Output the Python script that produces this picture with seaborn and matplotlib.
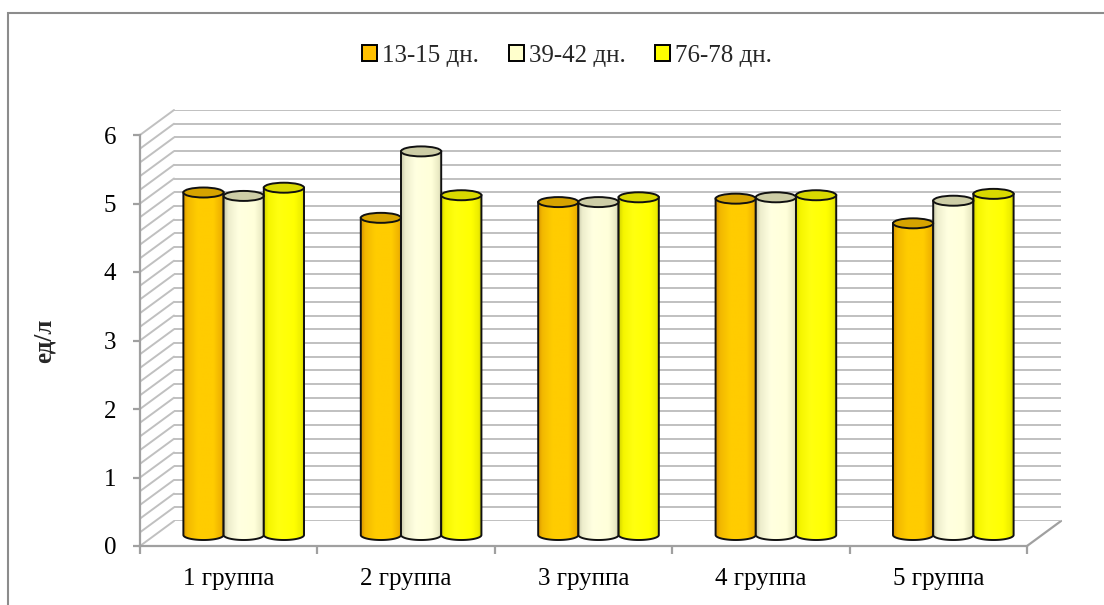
import numpy as np
import pandas as pd
import matplotlib
matplotlib.use("Agg")
import matplotlib.pyplot as plt
import seaborn as sns
from matplotlib.patches import Patch, Ellipse, PathPatch, Rectangle
from matplotlib.path import Path
from matplotlib.lines import Line2D
from matplotlib.transforms import IdentityTransform
from matplotlib.colors import to_rgb

# ---- data -------------------------------------------------------------
groups = ["1 группа", "2 группа", "3 группа", "4 группа", "5 группа"]
periods = ["13-15 дн.", "39-42 дн.", "76-78 дн."]
days_13_15 = [5.00, 4.63, 4.86, 4.91, 4.55]
days_39_42 = [4.95, 5.60, 4.86, 4.93, 4.88]
days_76_78 = [5.07, 4.96, 4.93, 4.96, 4.98]
y_ticks = [0, 1, 2, 3, 4, 5, 6]
y_label = "ед/л"

df = pd.DataFrame({
    "group": groups * 3,
    "period": np.repeat(periods, len(groups)),
    "value": days_13_15 + days_39_42 + days_76_78,
})

# ---- styling ----------------------------------------------------------
face_colors = ["#FFC000", "#FFFFCC", "#FFFF00"]
top_colors = ["#D6A300", "#CDCDA6", "#D9D900"]
# horizontal shading stops across each cylinder body (left -> right)
shade_pos = [0.0, 0.10, 0.35, 0.75, 0.92, 1.0]
shade_cols = [
    ["#D99600", "#F2B800", "#FFCC00", "#FFCC00", "#F0B400", "#D9A000"],
    ["#C9C9AA", "#EDEDCC", "#FFFFE0", "#FFFFDA", "#EAEAC4", "#CFCFAE"],
    ["#D6D600", "#F5F500", "#FFFF10", "#FFFF00", "#EDED00", "#C9C900"],
]
grid_col = "#C0C0C0"
axis_col = "#A0A0A0"

W, H = 1104, 605
UNIT = 68.5  # pixels per value unit

sns.set_theme(style="white")
plt.rcParams["font.family"] = ["Liberation Serif", "DejaVu Serif"]

fig = plt.figure(figsize=(W / 100, H / 100), dpi=100)


def place(left, right, y0, lo, hi):
    """Axes rectangle (figure fraction) from pixel x-span and pixel row of value 0."""
    bottom_px = y0 - lo * UNIT
    top_px = y0 - hi * UNIT
    return [left / W, 1 - bottom_px / H, (right - left) / W, (bottom_px - top_px) / H]


# back wall (gridlines), bar plane, front plane (axes lines and labels)
back_ax = fig.add_axes(place(174, 1061, 521, 0, 6), zorder=0)
bar_ax = fig.add_axes(place(155, 1042, 535, -0.3, 6.3), zorder=1)
front_ax = fig.add_axes(place(140, 1027, 546, 0, 6), zorder=2)

# back wall
back_ax.set_xlim(-0.5, 4.5)
back_ax.set_ylim(0, 6)
levels = np.round(np.arange(0, 6.001, 0.2), 2)
for v in levels:
    back_ax.axhline(v, color=grid_col, lw=1.4, zorder=0)
back_ax.set_xticks([])
back_ax.set_yticks([])
for s in back_ax.spines.values():
    s.set_visible(False)
back_ax.patch.set_alpha(0)

# bars
sns.barplot(data=df, x="group", y="value", hue="period", order=groups,
            hue_order=periods, palette=face_colors, width=0.68, gap=0,
            errorbar=None, legend=False, ax=bar_ax)

ry = 5 / UNIT  # half-height of the elliptical caps
theta = np.linspace(np.pi, 2 * np.pi, 60)
for k, cont in enumerate(bar_ax.containers):
    t = np.linspace(0, 1, 80)
    rgb = np.array([to_rgb(c) for c in shade_cols[k]])
    grad = np.stack([np.interp(t, shade_pos, rgb[:, i]) for i in range(3)], axis=-1)[None, :, :]
    for rect in cont:
        x0, w, h = rect.get_x(), rect.get_width(), rect.get_height()
        rect.set_visible(False)
        cx = x0 + w / 2
        arc = list(zip(cx + (w / 2) * np.cos(theta), ry * np.sin(theta)))
        verts = [(x0, h)] + arc + [(x0 + w, h), (x0, h)]
        codes = [Path.MOVETO] + [Path.LINETO] * (len(verts) - 2) + [Path.CLOSEPOLY]
        body = PathPatch(Path(verts, codes), facecolor="none", edgecolor="#111111",
                         lw=1.4, zorder=3 + k * 0.1)
        bar_ax.add_patch(body)
        img = bar_ax.imshow(grad, extent=[x0, x0 + w, -ry, h], aspect="auto",
                            interpolation="bilinear", zorder=2.9 + k * 0.1)
        img.set_clip_path(body)
        bar_ax.add_patch(Ellipse((cx, h), w, 2 * ry, facecolor=top_colors[k],
                                 edgecolor="#111111", lw=1.4, zorder=3.05 + k * 0.1))
bar_ax.set_xlim(-0.5, 4.5)
bar_ax.set_ylim(-0.3, 6.3)
bar_ax.set_axis_off()

# front axes
front_ax.set_xlim(-0.5, 4.5)
front_ax.set_ylim(0, 6)
front_ax.patch.set_alpha(0)
for side in ["top", "right"]:
    front_ax.spines[side].set_visible(False)
for side in ["left", "bottom"]:
    front_ax.spines[side].set_color(axis_col)
    front_ax.spines[side].set_linewidth(1.6)
front_ax.set_yticks(y_ticks)
front_ax.set_yticklabels([str(v) for v in y_ticks])
front_ax.set_xticks(np.arange(-0.5, 5, 1))
front_ax.set_xticklabels([])
front_ax.set_xticks(range(len(groups)), minor=True)
front_ax.set_xticklabels(groups, minor=True)
front_ax.tick_params(axis="y", left=True, length=5, width=1.6, color=axis_col,
                     labelsize=18, pad=12, labelcolor="black")
front_ax.tick_params(axis="x", which="major", bottom=True, length=6, width=1.6,
                     color=axis_col)
front_ax.tick_params(axis="x", which="minor", bottom=True, length=0, labelsize=18,
                     pad=16, labelcolor="black")
front_ax.set_ylabel(y_label, fontsize=18, fontweight="bold")
front_ax.yaxis.set_label_coords(-0.095, 0.5)

# side wall and floor edges joining front plane to back wall
for v in levels:
    p0 = front_ax.transData.transform((-0.5, v))
    p1 = back_ax.transData.transform((-0.5, v))
    fig.add_artist(Line2D([p0[0], p1[0]], [p0[1], p1[1]], transform=IdentityTransform(),
                          color=grid_col, lw=1.4, zorder=0))
p0 = front_ax.transData.transform((4.5, 0))
p1 = back_ax.transData.transform((4.5, 0))
fig.add_artist(Line2D([p0[0], p1[0]], [p0[1], p1[1]], transform=IdentityTransform(),
                      color=axis_col, lw=1.6, zorder=0))

# legend
handles = [Patch(facecolor=c, edgecolor="black", lw=1.4) for c in face_colors]
fig.legend(handles, periods, loc="center", bbox_to_anchor=(567 / W, 1 - 56 / H),
           ncol=3, frameon=False, fontsize=18, handlelength=0.6, handleheight=0.6,
           handletextpad=0.2, columnspacing=1.2)

# chart frame
fig.add_artist(Rectangle((8 / W, -0.1), 1.2, 1.1 - 13 / H, transform=fig.transFigure,
                         fill=False, edgecolor="#8C8C8C", lw=1.5))

fig.savefig("out.png", dpi=100)
